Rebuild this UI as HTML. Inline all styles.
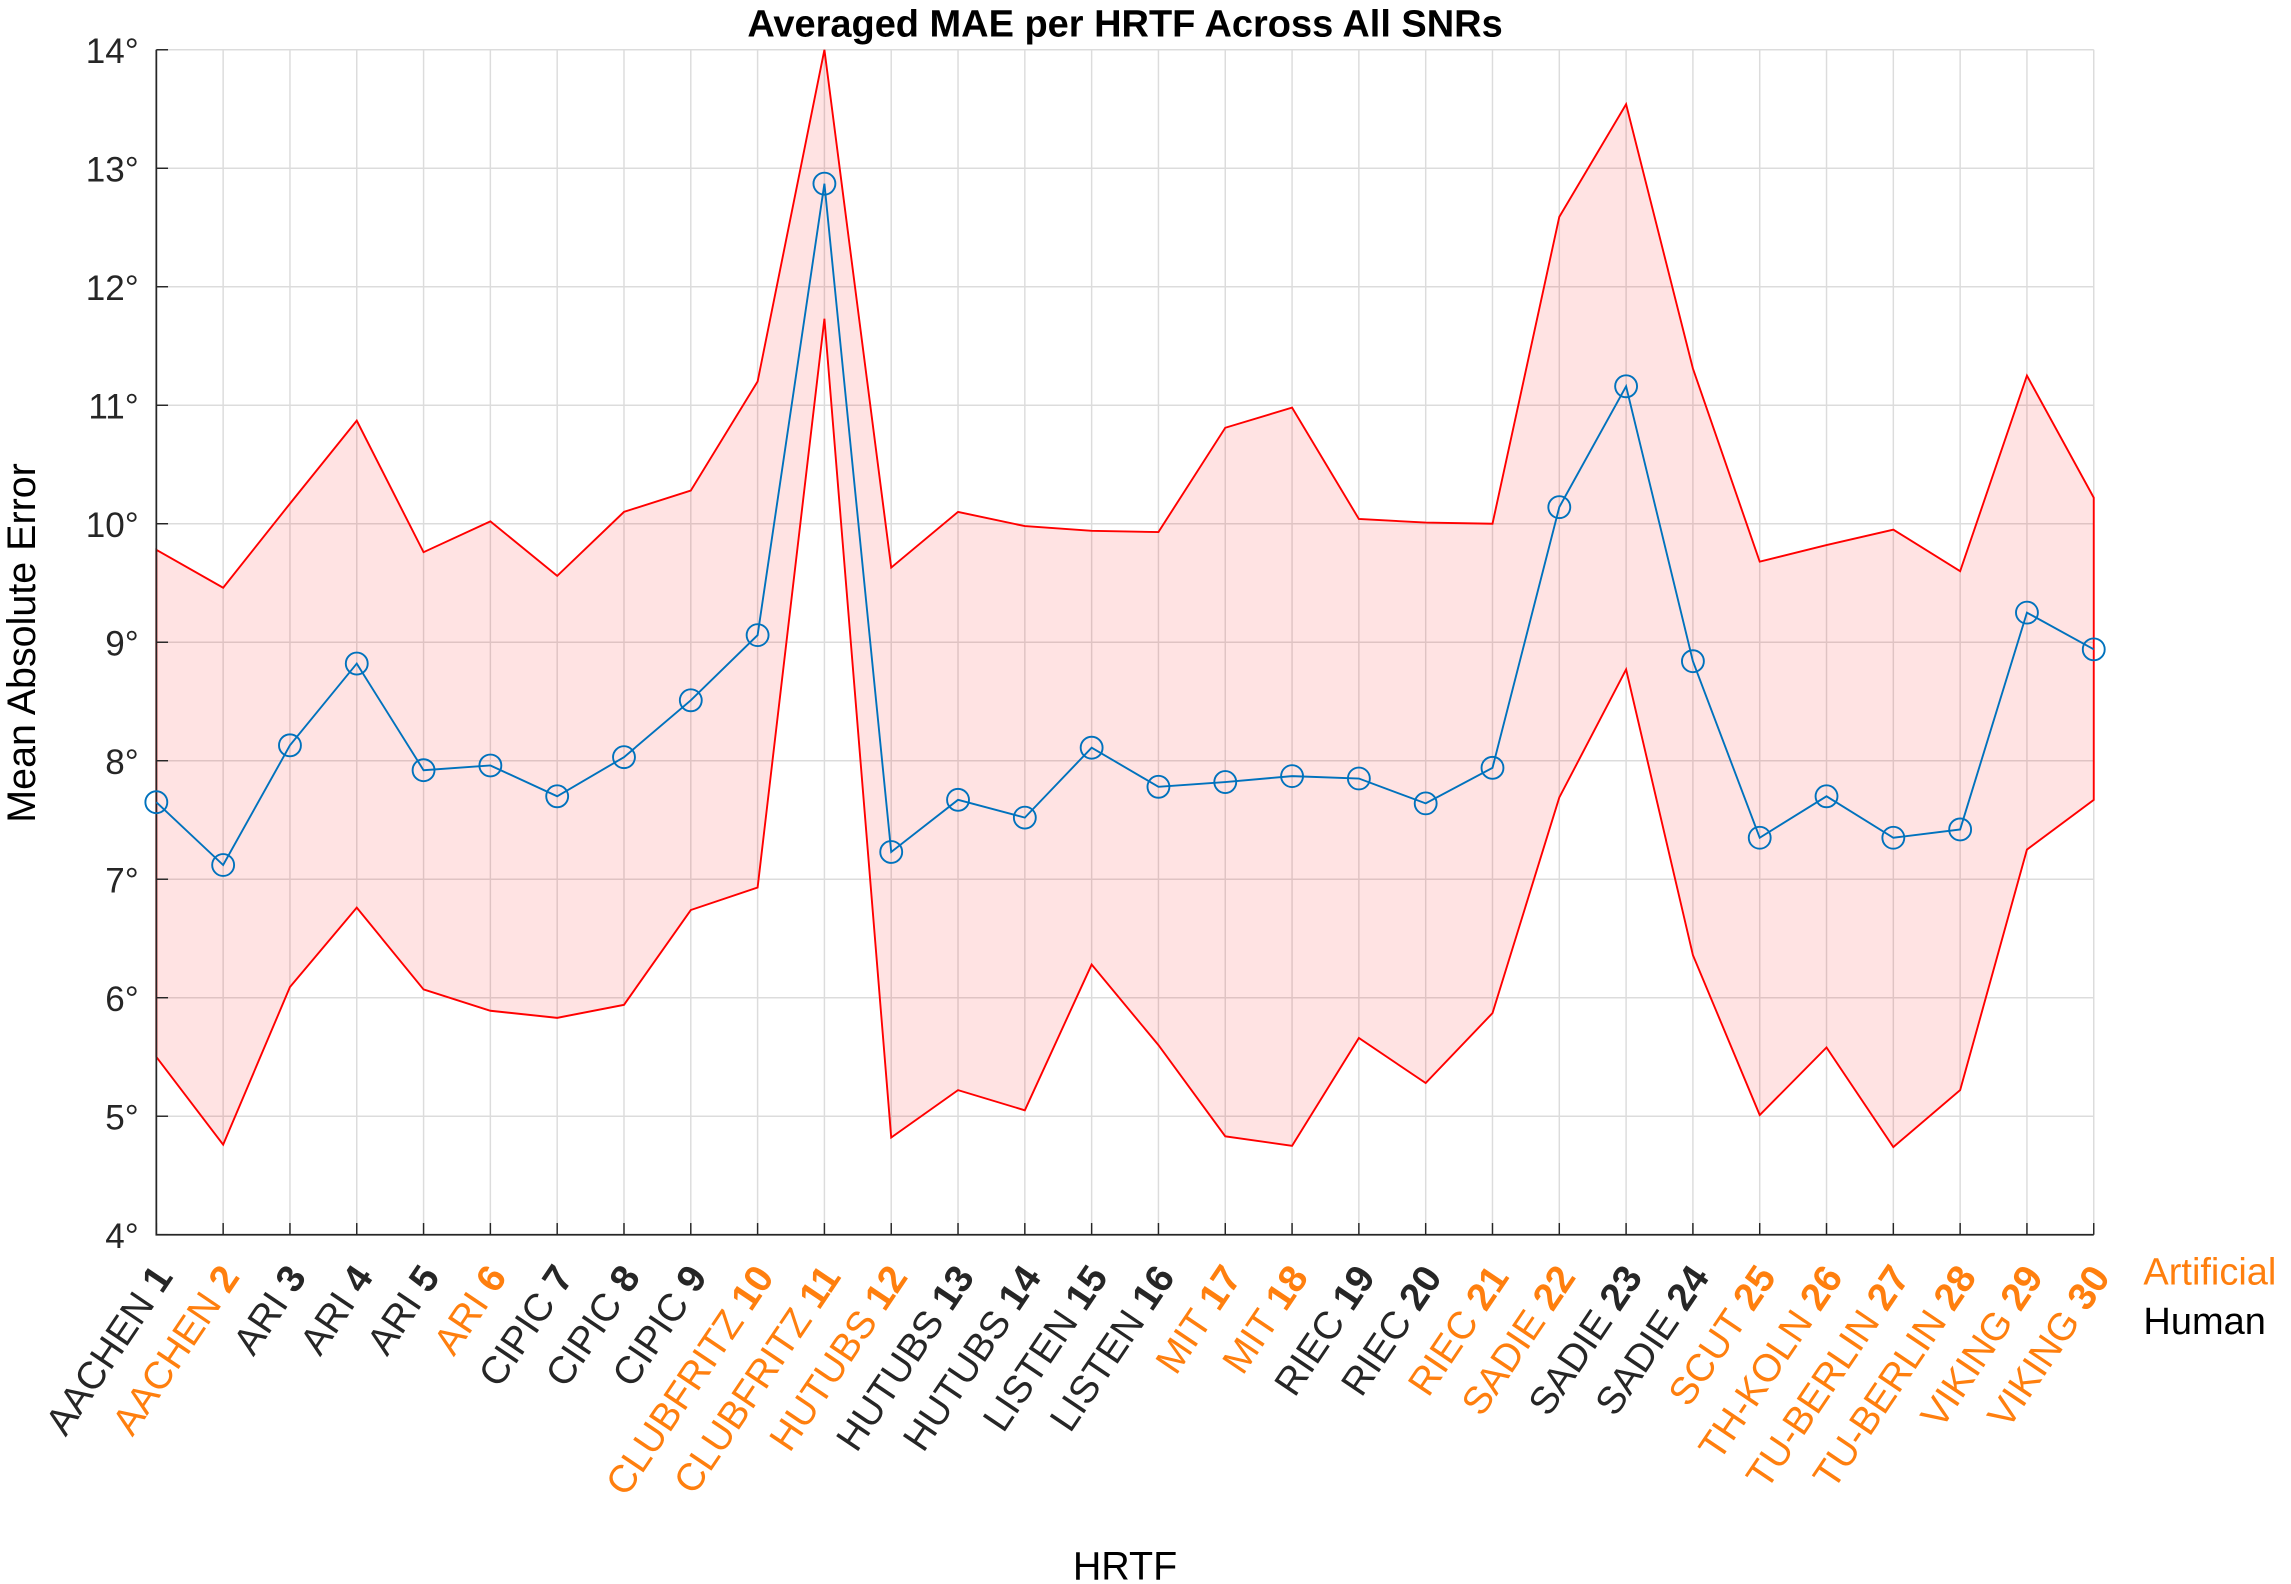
<!DOCTYPE html>
<html><head><meta charset="utf-8"><style>
html,body{margin:0;padding:0;background:#fff}
svg{display:block;font-family:"Liberation Sans",Arial,sans-serif}
</style></head><body>
<svg id="chart" width="2291" height="1584" viewBox="0 0 1568 1084" xmlns="http://www.w3.org/2000/svg">
<rect width="1568" height="1084" fill="#fff"/>
<text x="770" y="25" text-anchor="middle" font-size="26" font-weight="bold">Averaged MAE per HRTF Across All SNRs</text>
<text transform="translate(24,440) rotate(-90)" text-anchor="middle" font-size="27">Mean Absolute Error</text>
<text x="770" y="1081" text-anchor="middle" font-size="27">HRTF</text>
<text x="1467" y="879" font-size="26" fill="#ff7f0e">Artificial</text>
<text x="1467" y="913" font-size="26" fill="#000">Human</text>
<g id="grid"></g><g id="band"></g><g id="axes"></g><g id="series"></g><g id="labels"></g>
</svg>
<script>
const names=["AACHEN","AACHEN","ARI","ARI","ARI","ARI","CIPIC","CIPIC","CIPIC","CLUBFRITZ","CLUBFRITZ","HUTUBS","HUTUBS","HUTUBS","LISTEN","LISTEN","MIT","MIT","RIEC","RIEC","RIEC","SADIE","SADIE","SADIE","SCUT","TH-KOLN","TU-BERLIN","TU-BERLIN","VIKING","VIKING"];
const artificial=[0,1,0,0,0,1,0,0,0,1,1,1,0,0,0,0,1,1,0,0,1,1,0,0,1,1,1,1,1,1];
const meanVals=[7.65,7.12,8.13,8.82,7.92,7.96,7.70,8.03,8.51,9.06,12.87,7.23,7.67,7.52,8.11,7.78,7.82,7.87,7.85,7.64,7.94,10.14,11.16,8.84,7.35,7.70,7.35,7.42,9.25,8.94];
const upperVals=[9.78,9.46,10.17,10.87,9.76,10.02,9.56,10.10,10.28,11.20,14.0,9.63,10.10,9.98,9.94,9.93,10.81,10.98,10.04,10.01,10.00,12.59,13.54,11.31,9.68,9.82,9.95,9.60,11.25,10.22];
const lowerVals=[5.50,4.76,6.09,6.76,6.07,5.89,5.83,5.94,6.74,6.93,11.73,4.82,5.22,5.05,6.28,5.60,4.83,4.75,5.66,5.28,5.87,7.69,8.77,6.36,5.01,5.58,4.74,5.22,7.25,7.67];
const yTicks=[4,5,6,7,8,9,10,11,12,13,14];
const X0=107,X1=1433,Y0=845,Y1=34;
const n=meanVals.length;
const xs=i=>X0+(X1-X0)*i/(n-1);
const ys=v=>Y0-(v-4)/(14-4)*(Y0-Y1);
const NS="http://www.w3.org/2000/svg";
function mk(tag,attrs,parent){const e=document.createElementNS(NS,tag);for(const k in attrs)e.setAttribute(k,attrs[k]);document.getElementById(parent).appendChild(e);return e;}
yTicks.forEach(t=>{
 const g=mk('line',{x1:X0,x2:X1,y1:ys(t),y2:ys(t),stroke:'#dcdcdc','stroke-width':1},'grid');
 
 
 const tk=mk('line',{x1:X0,x2:X0+8,y1:ys(t),y2:ys(t),stroke:'#262626','stroke-width':1},'axes');
 
 
 const tx=mk('text',{x:X0-12,y:ys(t)+9,'text-anchor':'end','font-size':24,fill:'#262626'},'axes');
 tx.textContent=t+'°';
 
 
});
for(let i=0;i<n;i++){
 const g=mk('line',{x1:xs(i),x2:xs(i),y1:Y1,y2:Y0,stroke:'#dcdcdc','stroke-width':1},'grid');
 
 
 const tk=mk('line',{x1:xs(i),x2:xs(i),y1:Y0,y2:Y0-8,stroke:'#262626','stroke-width':1},'axes');
 
 
 const tx=mk('text',{'text-anchor':'end','font-size':26.5,fill:artificial[i]?'#ff7f0e':'#262626',transform:`translate(${xs(i)+12},${Y0+29}) rotate(-56)`},'labels');
 
 
 tx.appendChild(document.createTextNode(names[i]+' '));
 const b=document.createElementNS(NS,'tspan');b.setAttribute('font-weight','bold');b.textContent=String(i+1);tx.appendChild(b);
}
const ax=mk('path',{d:`M${X0},${Y1}V${Y0}H${X1}`,fill:'none',stroke:'#262626','stroke-width':1.2},'axes');


let up=upperVals.map((v,i)=>`${xs(i)},${ys(v)}`);
let lo=lowerVals.map((v,i)=>`${xs(i)},${ys(v)}`).reverse();
const band=mk('polygon',{points:up.concat(lo).join(' '),fill:'#ff0000','fill-opacity':0.11,stroke:'#ff0000','stroke-width':1.3},'band');


const line=mk('polyline',{points:meanVals.map((v,i)=>`${xs(i)},${ys(v)}`).join(' '),fill:'none',stroke:'#0072bd','stroke-width':1.3},'series');


meanVals.forEach((v,i)=>{
 const c=mk('circle',{cx:xs(i),cy:ys(v),r:7.5,fill:'none',stroke:'#0072bd','stroke-width':1.3},'series');
 
 
});
</script>
</body></html>
